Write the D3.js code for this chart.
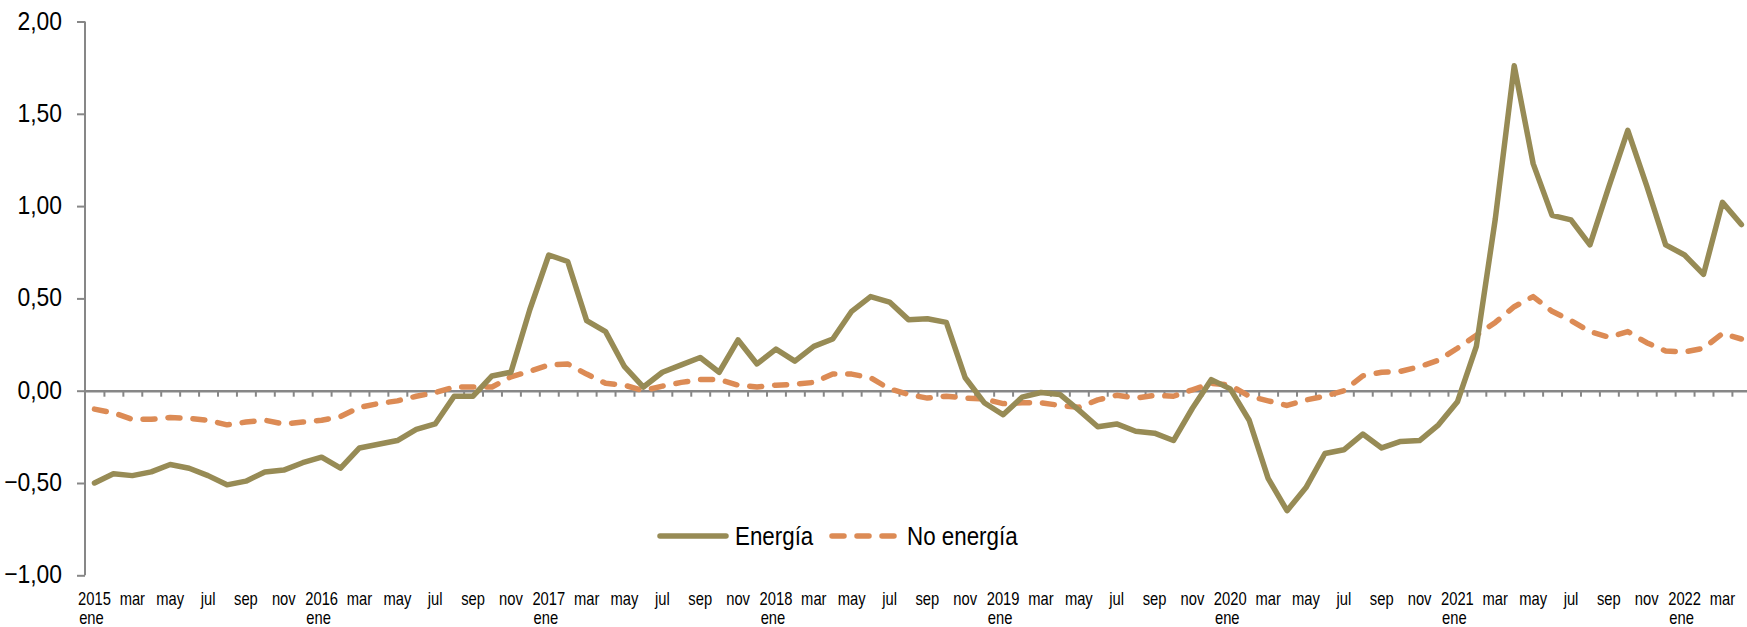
<!DOCTYPE html>
<html>
<head>
<meta charset="utf-8">
<script src="https://cdn.jsdelivr.net/npm/d3@7"></script>
<style>
  body { margin: 0; background: #fff; }
  svg text { font-family: "Liberation Sans", Arial, sans-serif; fill: #000; }
</style>
</head>
<body>
<svg id="chart" width="1747" height="627"></svg>
<script>
// datos: contribución mensual, ene 2015 - abr 2022
var years = [2015, 2016, 2017, 2018, 2019, 2020, 2021, 2022];
var months = ["ene", "feb", "mar", "abr", "may", "jun", "jul", "ago", "sep", "oct", "nov", "dic"];
var yTicks = [-1, -0.5, 0, 0.5, 1, 1.5, 2];
var seriesNames = ["Energía", "No energía"];

var energia = [
  -0.50, -0.45, -0.46, -0.44, -0.40, -0.42, -0.46, -0.51, -0.49, -0.44, -0.43, -0.39,
  -0.36, -0.42, -0.31, -0.29, -0.27, -0.21, -0.18, -0.03, -0.03, 0.08, 0.10, 0.44,
  0.735, 0.70, 0.38, 0.32, 0.13, 0.02, 0.10, 0.14, 0.18, 0.10, 0.275, 0.145,
  0.225, 0.16, 0.24, 0.28, 0.43, 0.51, 0.48, 0.385, 0.39, 0.37, 0.07, -0.065,
  -0.13, -0.035, -0.01, -0.02, -0.105, -0.195, -0.18, -0.22, -0.23, -0.27, -0.095, 0.06,
  0.01, -0.16, -0.475, -0.65, -0.525, -0.34, -0.32, -0.235, -0.31, -0.275, -0.27, -0.185,
  -0.06, 0.24, 0.93, 1.76, 1.23, 0.95, 0.925, 0.79, 1.105, 1.41, 1.11, 0.79,
  0.735, 0.63, 1.02, 0.90
];
var noEnergia = [
  -0.10, -0.12, -0.155, -0.155, -0.145, -0.15, -0.16, -0.185, -0.17, -0.16, -0.18, -0.17,
  -0.16, -0.14, -0.09, -0.07, -0.055, -0.03, -0.01, 0.02, 0.02, 0.02, 0.075, 0.105,
  0.14, 0.145, 0.09, 0.04, 0.03, 0.00, 0.025, 0.045, 0.06, 0.06, 0.03, 0.02,
  0.03, 0.035, 0.045, 0.09, 0.09, 0.07, 0.01, -0.02, -0.04, -0.03, -0.04, -0.045,
  -0.07, -0.065, -0.065, -0.08, -0.09, -0.05, -0.025, -0.04, -0.025, -0.03, 0.005, 0.04,
  0.03, -0.03, -0.055, -0.08, -0.05, -0.03, 0.00, 0.08, 0.10, 0.105, 0.13, 0.165,
  0.23, 0.30, 0.37, 0.455, 0.51, 0.43, 0.38, 0.32, 0.29, 0.32, 0.26, 0.215,
  0.21, 0.23, 0.31, 0.28
];

// categorías (año, mes) para cada punto
var cats = [];
years.forEach(function(y) {
  months.forEach(function(m, j) {
    if (cats.length < energia.length) cats.push({ year: y, month: m, idx: j });
  });
});

var colEnergia = "#978b55";
var colNoEnergia = "#dc8b55";
var axisCol = "#878787";

var svg = d3.select("#chart");
var left = 85, bandW = 18.93;

var x = d3.scaleBand()
  .domain(d3.range(cats.length))
  .range([left, left + cats.length * bandW])
  .padding(0);
var xEdge = d3.scaleLinear().domain([0, cats.length]).range(x.range());

var y = d3.scaleLinear().domain([-1, 2]).range([575.3, 21.5]);

var fmt = d3.formatLocale({ decimal: ",", thousands: ".", grouping: [3], currency: ["", "€"] }).format(".2f");

// texto estrecho (la fuente original es tipo Arial Narrow)
function narrowText(g, tx, ty, size, sx, anchor, str) {
  return g.append("text")
    .attr("transform", "translate(" + tx + "," + ty + ") scale(" + sx + ",1)")
    .attr("text-anchor", anchor)
    .style("font-size", size + "px")
    .text(str);
}

// eje Y
var yAxis = svg.append("g")
  .attr("transform", "translate(" + left + ",0)")
  .call(d3.axisLeft(y).tickValues(yTicks).tickFormat("").tickSize(8));
yAxis.selectAll("line").attr("stroke", axisCol).attr("stroke-width", 2);
yAxis.select(".domain").attr("stroke", axisCol).attr("stroke-width", 2).attr("d", "M0," + y(-1) + "V" + y(2));
yTicks.forEach(function(t) {
  narrowText(svg, 62, y(t) + 8, 26, 0.88, "end", fmt(t));
});

// eje X en el cero, marcas en los bordes de cada mes
var xAxis = svg.append("g")
  .attr("transform", "translate(0," + y(0) + ")")
  .call(d3.axisBottom(xEdge).tickValues(d3.range(1, cats.length + 1)).tickFormat("").tickSize(6).tickSizeOuter(0));
xAxis.selectAll("line").attr("stroke", axisCol).attr("stroke-width", 2);
xAxis.select(".domain").attr("stroke", axisCol).attr("stroke-width", 2.5);

// etiquetas de meses (cada dos meses)
var labs = svg.append("g");
cats.forEach(function(c, i) {
  if (c.idx % 2 !== 0) return;
  var cx = x(i) + x.bandwidth() / 2;
  if (c.idx === 0) {
    narrowText(labs, cx, 605, 18, 0.82, "middle", c.year);
    narrowText(labs, cx - 3, 624, 18, 0.82, "middle", c.month);
  } else {
    narrowText(labs, cx, 605, 18, 0.82, "middle", c.month);
  }
});

// líneas
var line = d3.line()
  .x(function(d, i) { return x(i) + x.bandwidth() / 2; })
  .y(function(d) { return y(d); });

svg.append("path").datum(noEnergia)
  .attr("fill", "none")
  .attr("stroke", colNoEnergia)
  .attr("stroke-width", 5.5)
  .attr("stroke-dasharray", "12 13")
  .attr("stroke-linecap", "round")
  .attr("stroke-linejoin", "round")
  .attr("d", line);

svg.append("path").datum(energia)
  .attr("fill", "none")
  .attr("stroke", colEnergia)
  .attr("stroke-width", 5.5)
  .attr("stroke-linecap", "round")
  .attr("stroke-linejoin", "round")
  .attr("d", line);

// leyenda
var leg = svg.append("g");
var legItems = [
  { name: seriesNames[0], color: colEnergia, dash: null, x1: 660, x2: 726, tx: 735 },
  { name: seriesNames[1], color: colNoEnergia, dash: "12 13", x1: 832, x2: 895, tx: 907 }
];
legItems.forEach(function(d) {
  leg.append("line")
    .attr("x1", d.x1).attr("x2", d.x2).attr("y1", 536).attr("y2", 536)
    .attr("stroke", d.color).attr("stroke-width", 5.5)
    .attr("stroke-linecap", "round")
    .attr("stroke-dasharray", d.dash);
  narrowText(leg, d.tx, 545, 26, 0.86, "start", d.name);
});
</script>
</body>
</html>
